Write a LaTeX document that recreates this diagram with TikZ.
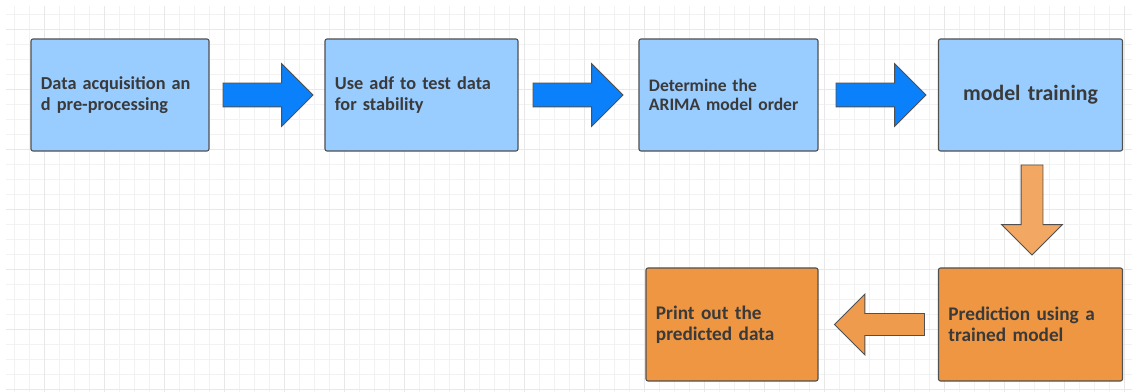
\documentclass[tikz,border=0pt]{standalone}
\usepackage{fontspec}
\setmainfont{Carlito}
\usetikzlibrary{shapes.arrows,calc}
\definecolor{boxblue}{HTML}{99CCFF}
\definecolor{arrowblue}{HTML}{0A80FA}
\definecolor{boxorange}{HTML}{EE9641}
\definecolor{arroworange}{HTML}{F2A862}
\definecolor{leftorange}{HTML}{EF9B4D}
\definecolor{textgray}{HTML}{3A3A3A}
\definecolor{edgegray}{HTML}{505050}
\tikzset{
  stepbox/.style={draw=edgegray, line width=0.8pt, rounded corners=1.5pt, minimum height=2.8cm,
    inner xsep=0.25cm, align=left, text=textgray, font=\bfseries\fontsize{13}{15}\selectfont},
  bluebox/.style={stepbox, fill=boxblue},
  orangebox/.style={stepbox, fill=boxorange, font=\bfseries\fontsize{13.7}{15}\selectfont},
  blockarrow/.style={single arrow, draw=edgegray, line width=0.6pt, inner sep=0.2875cm,
    minimum height=2.25cm, minimum width=1.55cm, single arrow head extend=0.4875cm, anchor=tail},
  thinarrow/.style={blockarrow, inner sep=0.2625cm, minimum width=1.5cm},
  minorline/.style={draw=black!5, line width=0.6pt},
  majorline/.style={draw=black!9, line width=0.6pt}
}
\begin{document}
\begin{tikzpicture}[x=0.025cm, y=-0.025cm]
\useasboundingbox (0,0) rectangle (1132,392);
% background grid
\foreach \x in {14,29,...,1132} \draw[minorline] (\x,6) -- (\x,392);
\foreach \y in {14,29,...,392} \draw[minorline] (6,\y) -- (1132,\y);
\foreach \x in {44,104,...,1132} \draw[majorline] (\x,6) -- (\x,392);
\foreach \y in {29,89,...,392} \draw[majorline] (6,\y) -- (1132,\y);

\node[bluebox, minimum width=4.45cm, text width=3.95cm] (acq) at (120,95) {Data acquisition an\\d pre-processing};
\node[bluebox, minimum width=4.825cm, text width=4.325cm] (adf) at (421.5,95) {Use adf to test data\\for stability};
\node[bluebox, minimum width=4.475cm, text width=3.975cm, font=\bfseries\fontsize{12.5}{14}\selectfont] (order) at (728.5,95) {Determine the\\ARIMA model order};
\node[bluebox, minimum width=4.6cm, text width=4.1cm, align=center, font=\bfseries\fontsize{15.5}{17}\selectfont] (train) at (1030.5,95) {model training};
\node[orangebox, minimum width=4.6cm, text width=4.1cm, minimum height=2.825cm] (pred) at (1030.5,324.5) {Prediction using a\\trained model};
\node[orangebox, minimum width=4.3cm, text width=3.8cm, minimum height=2.825cm] (print) at (732,324.5) {Print out the\\predicted data};

\node[blockarrow, fill=arrowblue] (a1) at ($(acq.east)+(13,0)$) {};
\node[blockarrow, fill=arrowblue] (a2) at ($(adf.east)+(14,0)$) {};
\node[blockarrow, fill=arrowblue] (a3) at ($(order.east)+(17,0)$) {};
\node[thinarrow, fill=arroworange, shape border rotate=270] (a4) at ($(train.south)+(1.5,13)$) {};
\node[thinarrow, fill=leftorange, shape border rotate=180] (a5) at ($(pred.west)+(-13,0)$) {};
\end{tikzpicture}
\end{document}
